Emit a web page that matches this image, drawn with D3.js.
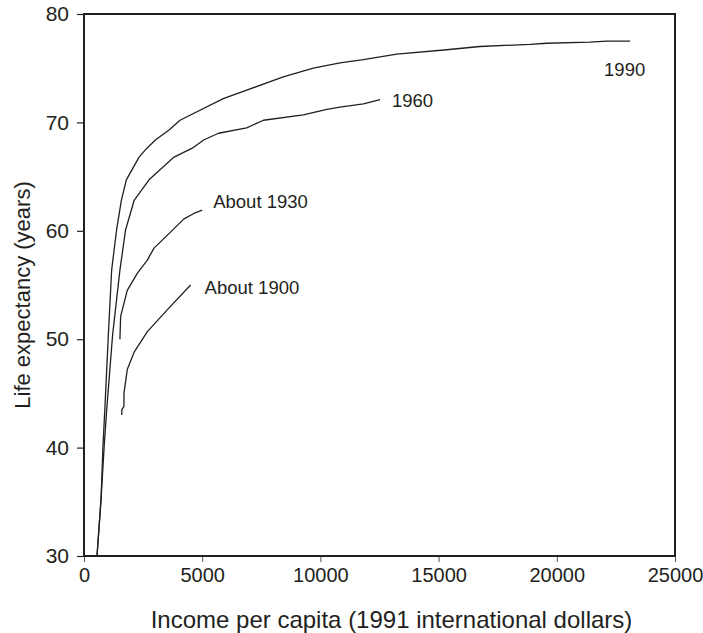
<!DOCTYPE html>
<html>
<head>
<meta charset="utf-8">
<script src="https://cdn.jsdelivr.net/npm/d3@7"></script>
<style>
  html, body { margin: 0; padding: 0; background: #fff; }
  svg { display: block; }
  text { font-family: "Liberation Sans", Arial, Helvetica, sans-serif; fill: #231f20; }
</style>
</head>
<body>
<svg id="chart" width="703" height="633"></svg>
<script>
// Income per capita (1991 int. $) vs life expectancy (years), four periods
const incomeTicks = [0, 5000, 10000, 15000, 20000, 25000];
const lifeTicks = [30, 40, 50, 60, 70, 80];

const income1990 = [550, 720, 800, 880, 1030, 1170, 1380, 1580, 1790, 2330, 2650, 3030, 3600, 4060, 5890, 8430, 9700, 10830, 11820, 13230, 15340, 16750, 18870, 19570, 21400, 22110, 23100];
const life1990   = [30.0, 35.2, 40.0, 43.5, 50.4, 56.4, 60.1, 62.8, 64.7, 66.8, 67.6, 68.4, 69.3, 70.2, 72.2, 74.2, 75.0, 75.5, 75.8, 76.3, 76.7, 77.0, 77.2, 77.3, 77.4, 77.5, 77.5];

const income1960 = [550, 720, 850, 960, 1210, 1520, 1760, 2120, 2750, 3810, 4560, 5080, 5690, 6880, 7590, 9280, 10270, 10830, 11820, 12520];
const life1960   = [30.0, 35.2, 40.0, 43.5, 50.4, 56.4, 60.1, 62.8, 64.7, 66.8, 67.6, 68.4, 69.0, 69.5, 70.2, 70.7, 71.2, 71.4, 71.7, 72.1];

const income1930 = [1520, 1550, 1830, 2260, 2680, 2960, 3670, 4230, 4650, 5000];
const life1930   = [50.0, 52.1, 54.5, 56.1, 57.3, 58.4, 59.9, 61.1, 61.6, 61.9];

const income1900 = [1600, 1600, 1690, 1690, 1830, 2120, 2680, 3520, 4510];
const life1900   = [43.0, 43.5, 43.8, 45.0, 47.2, 48.8, 50.7, 52.7, 55.0];

const seriesNames = ["1990", "1960", "About 1930", "About 1900"];

const series = [
  { name: seriesNames[0], x: income1990, y: life1990, dx: -26, dy: 35 },
  { name: seriesNames[1], x: income1960, y: life1960, dx: 12, dy: 7 },
  { name: seriesNames[2], x: income1930, y: life1930, dx: 11, dy: -2 },
  { name: seriesNames[3], x: income1900, y: life1900, dx: 14, dy: 9 }
];

const svg = d3.select("#chart");
const margin = { left: 84, right: 28, top: 14, bottom: 77 };
const W = 703, H = 633;

const x = d3.scaleLinear().domain([0, 25000]).range([margin.left, W - margin.right]);
const y = d3.scaleLinear().domain([30, 80]).range([H - margin.bottom, margin.top]);

const ink = "#231f20";

// Frame
svg.append("rect")
  .attr("x", x(0)).attr("y", y(80))
  .attr("width", x(25000) - x(0)).attr("height", y(30) - y(80))
  .attr("fill", "none").attr("stroke", ink).attr("stroke-width", 2);

// X axis
const xAxis = svg.append("g")
  .attr("transform", `translate(0,${y(30) + 1})`)
  .call(d3.axisBottom(x).tickValues(incomeTicks).tickFormat(d3.format("d")).tickSize(5).tickPadding(6));
xAxis.select(".domain").remove();
xAxis.selectAll("line").attr("stroke", "#555").attr("stroke-width", 1);
xAxis.selectAll("text").style("font-size", "20px").attr("fill", ink);

// Y axis
const yAxis = svg.append("g")
  .attr("transform", `translate(${x(0) - 1},0)`)
  .call(d3.axisLeft(y).tickValues(lifeTicks).tickSize(6).tickPadding(8));
yAxis.select(".domain").remove();
yAxis.selectAll("line").attr("stroke", ink).attr("stroke-width", 1.2);
yAxis.selectAll("text").style("font-size", "21px").attr("fill", ink);

// Axis titles
svg.append("text")
  .attr("x", (x(0) + x(25000)) / 2 + 12).attr("y", 628)
  .attr("text-anchor", "middle").style("font-size", "24px")
  .text("Income per capita (1991 international dollars)");

svg.append("text")
  .attr("transform", `translate(30,${(y(30) + y(80)) / 2 + 10}) rotate(-90)`)
  .attr("text-anchor", "middle").style("font-size", "22px")
  .text("Life expectancy (years)");

// Curves
const line = d3.line().x(d => x(d[0])).y(d => y(d[1]));
const plot = svg.append("g");

series.forEach(s => {
  const pts = s.x.map((v, i) => [v, s.y[i]]);
  plot.append("path")
    .datum(pts)
    .attr("d", line)
    .attr("fill", "none")
    .attr("stroke", ink)
    .attr("stroke-width", 1.3)
    .attr("stroke-linejoin", "round");

  const last = pts[pts.length - 1];
  plot.append("text")
    .attr("x", x(last[0]) + s.dx)
    .attr("y", y(last[1]) + s.dy)
    .style("font-size", "18.5px")
    .text(s.name);
});
</script>
</body>
</html>
